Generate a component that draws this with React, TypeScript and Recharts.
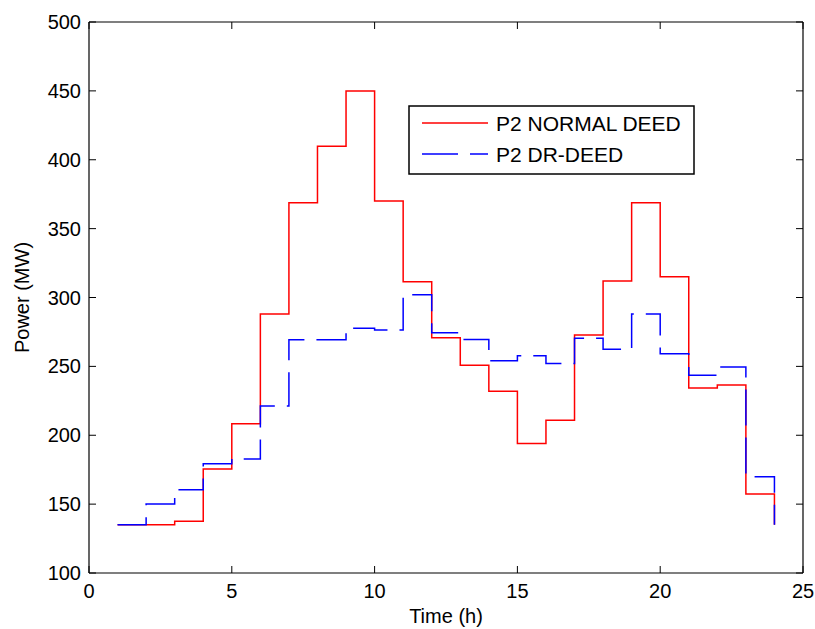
import React from 'react';
import { ComposedChart, Line, XAxis, YAxis, Legend } from 'recharts';

const hours = [1, 2, 3, 4, 5, 6, 7, 8, 9, 10, 11, 12, 13, 14, 15, 16, 17, 18, 19, 20, 21, 22, 23, 24];
const normalDeed = [135, 135, 137.5, 175.5, 208.4, 288, 368.8, 409.8, 450, 370, 311.5, 270.8, 250.8, 232, 194, 210.8, 272.8, 312, 368.8, 315, 234.3, 236.5, 157.4, 135];
const drDeed = [135, 150.1, 160.5, 179.3, 182.8, 221.2, 269.4, 269.4, 277.6, 276.4, 302, 274.4, 269.5, 254.1, 257.7, 252, 270.4, 262.4, 288, 259.2, 243.5, 249.5, 169.9, 135];
const xTicks = [0, 5, 10, 15, 20, 25];
const yTicks = [100, 150, 200, 250, 300, 350, 400, 450, 500];
const seriesNames = ['P2 NORMAL DEED', 'P2 DR-DEED'];
const xTitle = 'Time (h)';
const yTitle = 'Power (MW)';

const data = hours.map((h, i) => ({ hour: h, normal: normalDeed[i], dr: drDeed[i] }));

const W = 815;
const H = 629;
const PL = 89;
const PT = 22;
const PR = 803;
const PB = 573;
const TICK = 7;
const FONT = 'Liberation Sans, Arial, Helvetica, sans-serif';
const FS = 20;
const LFS = 21;

const LeftTick = (props: any) => {
  const { y, payload } = props;
  return (
    <g>
      <line x1={PL} x2={PL + TICK} y1={y} y2={y} stroke="#000" strokeWidth={1} />
      <text x={PL - 8} y={y + 7} textAnchor="end" fontSize={FS} fontFamily={FONT} fill="#000">{payload.value}</text>
    </g>
  );
};
const RightTick = (props: any) => {
  const { y } = props;
  return <line x1={PR - TICK} x2={PR} y1={y} y2={y} stroke="#000" strokeWidth={1} />;
};
const BottomTick = (props: any) => {
  const { x, payload } = props;
  return (
    <g>
      <line x1={x} x2={x} y1={PB} y2={PB - TICK} stroke="#000" strokeWidth={1} />
      <text x={x} y={PB + 25} textAnchor="middle" fontSize={FS} fontFamily={FONT} fill="#000">{payload.value}</text>
    </g>
  );
};
const TopTick = (props: any) => {
  const { x } = props;
  return <line x1={x} x2={x} y1={PT} y2={PT + TICK} stroke="#000" strokeWidth={1} />;
};

const LegendBox = () => (
  <svg width={287} height={70} style={{ display: 'block' }}>
    <rect x={1} y={1} width={285} height={68} fill="#fff" stroke="#000" strokeWidth={1.5} />
    <line x1={14} x2={80} y1={18} y2={18} stroke="#ff0000" strokeWidth={1.5} />
    <text x={88} y={26} fontSize={LFS} fontFamily={FONT} fill="#000">{seriesNames[0]}</text>
    <line x1={14} x2={80} y1={49} y2={49} stroke="#0000ff" strokeWidth={1.5} strokeDasharray="36 12" />
    <text x={88} y={57} fontSize={LFS} fontFamily={FONT} fill="#000">{seriesNames[1]}</text>
  </svg>
);

export default function App() {
  return (
    <div style={{ position: 'absolute', left: 0, top: 0, background: '#fff' }}>
      <ComposedChart width={W} height={H} data={data} margin={{ top: PT - 1, right: W - PR - 1, left: 0, bottom: 0 }}>
        <XAxis
          dataKey="hour"
          type="number"
          domain={[0, 25]}
          ticks={xTicks}
          height={H - PB}
          axisLine={{ stroke: '#000', strokeWidth: 1.2 }}
          tickLine={false}
          tick={<BottomTick />}
          interval={0}
          label={{
            content: () => (
              <text x={(PL + PR) / 2} y={623} textAnchor="middle" fontSize={FS} fontFamily={FONT} fill="#000">{xTitle}</text>
            ),
          }}
        />
        <XAxis
          xAxisId="top"
          dataKey="hour"
          orientation="top"
          type="number"
          domain={[0, 25]}
          ticks={xTicks}
          height={1}
          axisLine={{ stroke: '#000', strokeWidth: 1.2 }}
          tickLine={false}
          tick={<TopTick />}
          interval={0}
        />
        <YAxis
          type="number"
          domain={[100, 500]}
          ticks={yTicks}
          width={PL}
          axisLine={{ stroke: '#000', strokeWidth: 1.2 }}
          tickLine={false}
          tick={<LeftTick />}
          interval={0}
          label={{
            content: () => (
              <text
                x={29}
                y={(PT + PB) / 2}
                textAnchor="middle"
                fontSize={FS}
                fontFamily={FONT}
                fill="#000"
                transform={`rotate(-90 29 ${(PT + PB) / 2})`}
              >
                {yTitle}
              </text>
            ),
          }}
        />
        <YAxis
          yAxisId="right"
          orientation="right"
          type="number"
          domain={[100, 500]}
          ticks={yTicks}
          width={1}
          axisLine={{ stroke: '#000', strokeWidth: 1.2 }}
          tickLine={false}
          tick={<RightTick />}
          interval={0}
        />
        <Legend
          verticalAlign="middle"
          align="center"
          layout="horizontal"
          content={() => <LegendBox />}
          wrapperStyle={{ position: 'absolute', left: 408, top: 105, width: 287, height: 70 }}
        />
        <Line
          xAxisId="top"
          yAxisId="right"
          type="stepAfter"
          dataKey="normal"
          stroke="none"
          strokeWidth={0}
          dot={false}
          activeDot={false}
          legendType="none"
          isAnimationActive={false}
        />
        <Line
          type="stepAfter"
          dataKey="normal"
          name={seriesNames[0]}
          stroke="#ff0000"
          strokeWidth={1.5}
          dot={false}
          activeDot={false}
          isAnimationActive={false}
        />
        <Line
          type="stepAfter"
          dataKey="dr"
          name={seriesNames[1]}
          stroke="#0000ff"
          strokeWidth={1.5}
          strokeDasharray="36 12"
          dot={false}
          activeDot={false}
          isAnimationActive={false}
        />
      </ComposedChart>
    </div>
  );
}
